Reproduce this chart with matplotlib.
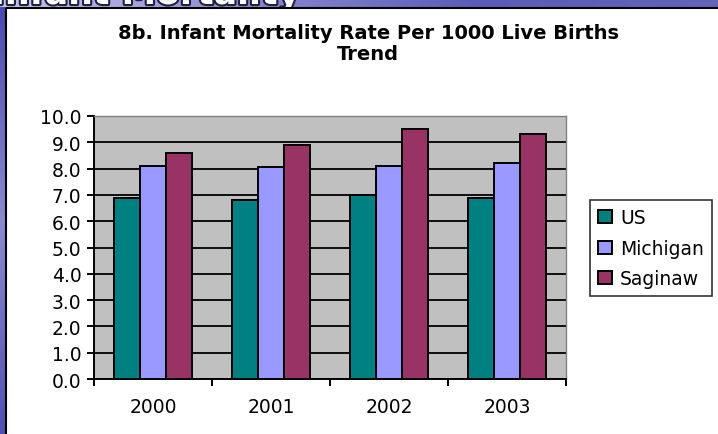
import matplotlib
matplotlib.use("Agg")
import matplotlib.pyplot as plt
import matplotlib.patheffects as pe
from matplotlib.patches import Patch
from matplotlib.colors import LinearSegmentedColormap
import numpy as np

plt.rcParams['font.family'] = ['DejaVu Sans']

years = ["2000", "2001", "2002", "2003"]
series_names = ["US", "Michigan", "Saginaw"]
us = [6.9, 6.8, 7.0, 6.9]
michigan = [8.1, 8.05, 8.1, 8.2]
saginaw = [8.6, 8.9, 9.5, 9.3]
colors = ["#008080", "#9999ff", "#993366"]
y_ticks = [0, 1, 2, 3, 4, 5, 6, 7, 8, 9, 10]

W, H = 718, 435
fig = plt.figure(figsize=(W / 100, H / 100), dpi=100, facecolor="white")

def fx(px):
    return px / W

def fy(py):
    return 1 - py / H

# slide frame: blue band along the top and left edge
grad = np.linspace(0, 1, 256).reshape(1, -1)
blue = LinearSegmentedColormap.from_list("slide", ["#c4c4ec", "#8c8cd2", "#5c5cb8", "#6464bc"])

top = fig.add_axes([0, fy(8), 1, 8 / H])
top.imshow(grad, aspect="auto", cmap=blue, extent=[0, W, 0, 8])
top.set_xlim(0, W)
top.set_ylim(0, 8)
top.axis("off")
top.text(-8, 3, "Infant Mortality", fontsize=25, fontweight="bold", color="white",
         va="baseline", ha="left", clip_on=True,
         path_effects=[pe.withStroke(linewidth=3, foreground="#202040")])

left = fig.add_axes([0, 0, fx(5), fy(8)])
left.imshow(np.linspace(0, 1, 256).reshape(-1, 1), aspect="auto",
            cmap=LinearSegmentedColormap.from_list("side", ["#4a4ab0", "#8a8ad0", "#5050b4"]))
left.axis("off")

frame = fig.add_axes([0, 0, 1, 1], facecolor="none")
frame.set_xlim(0, W)
frame.set_ylim(H, 0)
frame.axis("off")
frame.plot([5.5, 5.5, W], [H, 8.5, 8.5], color="black", lw=1.5)

# chart
ax = fig.add_axes([fx(94), fy(380), fx(566) - fx(94), fy(117) - fy(380)])
ax.set_facecolor("#c0c0c0")
x = np.arange(len(years))
bw = 0.223
for i, (vals, name, c) in enumerate(zip([us, michigan, saginaw], series_names, colors)):
    ax.bar(x + (i - 1) * bw, vals, width=bw, color=c, edgecolor="black",
           linewidth=1.4, label=name, zorder=3)

ax.set_xlim(-0.5, len(years) - 0.5)
ax.set_ylim(0, 10)
ax.set_yticks(y_ticks)
ax.set_yticklabels([f"{v:.1f}" for v in y_ticks])
ax.yaxis.grid(True, color="black", lw=1.3, zorder=1)
ax.set_axisbelow(True)

ax.set_xticks(x)
ax.set_xticklabels(years)
ax.set_xticks(np.arange(len(years) + 1) - 0.5, minor=True)
ax.tick_params(axis="x", which="major", length=0, pad=13, labelsize=13.5)
ax.tick_params(axis="x", which="minor", length=5, width=1.4, direction="out")
ax.tick_params(axis="y", length=5, width=1.4, direction="out", pad=4, labelsize=13.5)

for s in ["left", "bottom"]:
    ax.spines[s].set_color("black")
    ax.spines[s].set_linewidth(1.4)
for s in ["top", "right"]:
    ax.spines[s].set_color("#808080")
    ax.spines[s].set_linewidth(1.0)

fig.text(fx(368), fy(39), "8b. Infant Mortality Rate Per 1000 Live Births",
         ha="center", va="baseline", fontsize=14, fontweight="bold")
fig.text(fx(368), fy(60.5), "Trend", ha="center", va="baseline",
         fontsize=14, fontweight="bold")

handles = [Patch(facecolor=c, edgecolor="black", linewidth=1.4) for c in colors]
leg = fig.legend(handles, series_names, loc="upper left",
                 bbox_to_anchor=(fx(590), fy(201)), borderaxespad=0,
                 fontsize=13.5, frameon=True, fancybox=False,
                 handlelength=0.7, handleheight=0.7, handletextpad=0.45,
                 labelspacing=0.6, borderpad=0.45)
leg.get_frame().set_edgecolor("black")
leg.get_frame().set_linewidth(1.2)

fig.savefig("out.png", dpi=100, facecolor="white")
